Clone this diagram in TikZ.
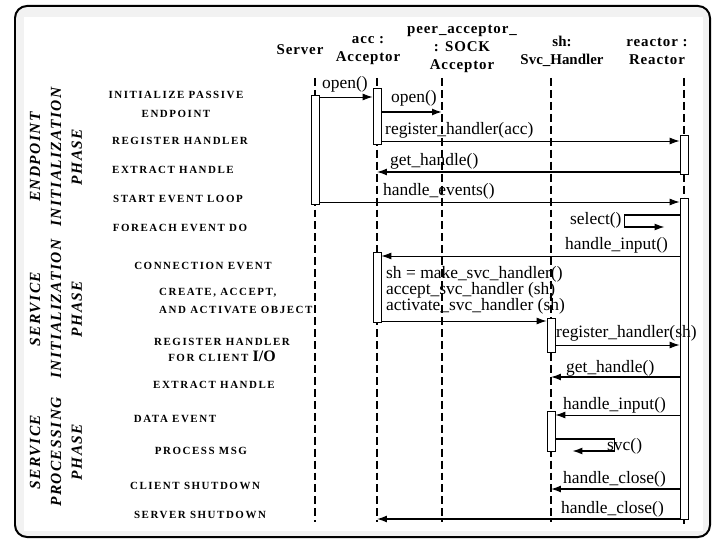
\documentclass[tikz,border=0pt]{standalone}
\usepackage{fontspec}
\setmainfont{Liberation Serif}
\newfontfamily\capsfont[LetterSpace=14]{Liberation Serif Bold}
\newfontfamily\phasefont[LetterSpace=9]{Liberation Serif Bold Italic}
\newfontfamily\headfont[LetterSpace=6]{Liberation Serif Bold}
\newfontfamily\headtight{Liberation Serif Bold}
\usetikzlibrary{arrows.meta,positioning}

\begin{document}
\begin{tikzpicture}[
    x=1bp, y=-1bp,
    lifeline/.style={line width=1.5pt, dash pattern=on 8pt off 4pt},
    bar/.style={rectangle, draw, fill=white, line width=0.9pt, minimum width=8pt, inner sep=0pt},
    msg/.style={-{Latex[length=10pt,width=7pt]}, line width=0.9pt},
    msgtext/.style={anchor=base west, inner sep=0pt, font=\fontsize{17.5}{16}\selectfont},
    head/.style={align=center, inner sep=0pt, font=\headfont\fontsize{15}{18}\selectfont},
    action/.style={align=center, inner sep=0pt, font=\capsfont\fontsize{11}{19}\selectfont},
    phase/.style={align=center, inner sep=0pt, rotate=90, font=\phasefont\fontsize{15.5}{21}\selectfont}
]
    \useasboundingbox (0,0) rectangle (715,539);
    % frame
    \draw[line width=2pt, rounded corners=12pt, fill=gray!10] (15,6) rectangle (710,537);
    \fill[white] (24,17) rectangle (703,531);

    % object heads
    \node[head] (srvhead) at (300,50) {Server};
    \node[head] (acchead) at (368,51) {acc :\\Acceptor};
    \node[head] (peerhead) at (462,49) {peer\_acceptor\_\\: SOCK\\Acceptor};
    \node[head, font=\headtight\fontsize{15}{18}\selectfont] (shhead) at (562,51) {sh:\\Svc\_Handler};
    \node[head] (reactorhead) at (657,51) {reactor :\\Reactor};

    % phases
    \node[phase] (phase1) at (56,157) {ENDPOINT\\INITIALIZATION\\PHASE};
    \node[phase] (phase2) at (56,309) {SERVICE\\INITIALIZATION\\PHASE};
    \node[phase] (phase3) at (56,452) {SERVICE\\PROCESSING\\PHASE};

    % lifelines
    \coordinate (srvtop) at (315,78);     \coordinate (srvend) at (315,522);
    \coordinate (acctop) at (377,78);     \coordinate (accend) at (377,522);
    \coordinate (peertop) at (442,78);    \coordinate (peerend) at (442,522);
    \coordinate (shtop) at (551,78);      \coordinate (shend) at (551,522);
    \coordinate (reactortop) at (684,78); \coordinate (reactorend) at (684,524);
    \draw[lifeline] (srvtop) -- (srvend);
    \draw[lifeline] (acctop) -- (accend);
    \draw[lifeline] (peertop) -- (peerend);
    \draw[lifeline] (shtop) -- (shend);
    \draw[lifeline] (reactortop) -- (reactorend);

    % steps
    \node[action] (initep) at (176,104) {INITIALIZE PASSIVE\\ENDPOINT};
    \node[action] (reghdl) at (180,141) {REGISTER HANDLER};
    \node[action] (extract1) at (173,170) {EXTRACT HANDLE};
    \node[action] (startloop) at (178,199) {START EVENT LOOP};
    \node[action] (foreach) at (180,228) {FOREACH EVENT DO};
    \node[action] (connev) at (203,266) {CONNECTION EVENT};
    \node[action, anchor=west, align=left, fill=white, inner ysep=7pt, font=\capsfont\fontsize{11}{18}\selectfont] (create) at (159,301) {CREATE, ACCEPT,\\AND ACTIVATE OBJECT};
    \node[action, font=\capsfont\fontsize{11}{16}\selectfont] (regclient) at (222,350) {REGISTER HANDLER\\FOR CLIENT {\headtight\fontsize{16}{16}\selectfont I/O}};
    \node[action] (extract2) at (214,385) {EXTRACT HANDLE};
    \node[action] (dataev) at (175,419) {DATA EVENT};
    \node[action] (procmsg) at (201,451) {PROCESS MSG};
    \node[action] (clientdown) at (195,486) {CLIENT SHUTDOWN};
    \node[action] (serverdown) at (200,515) {SERVER SHUTDOWN};

    % activations
    \node[bar, minimum height=110pt] (srvbar) at (315,150) {};
    \node[bar, minimum height=57pt] (accbar1) at (377,116.5) {};
    \node[bar, minimum height=40pt] (reactorbar1) at (684,155) {};
    \node[bar, minimum height=322pt] (reactorbar2) at (684,359) {};
    \node[bar, minimum height=71pt] (accbar2) at (377,287.5) {};
    \node[bar, minimum height=35pt] (shbar1) at (551,335.5) {};
    \node[bar, minimum height=41pt] (shbar2) at (551,431.5) {};

    % messages
    \draw[msg] (srvbar.east |- 0,97) -- (accbar1.west |- 0,97);
    \node[msgtext] (open1) at (322,89) {open()};
    \draw[msg, line width=1.6pt] (accbar1.east |- 0,112) -- (peertop |- 0,112);
    \node[msgtext] (open2) at (391,103) {open()};
    \draw[msg] (accbar1.east |- 0,141) -- (reactorbar1.west |- 0,141);
    \node[msgtext] (regacc) at (385,135) {register\_handler(acc)};
    \draw[msg, line width=1.3pt] (reactorbar1.west |- 0,172) -- (acctop |- 0,172);
    \node[msgtext] (gethdl1) at (390,166) {get\_handle()};
    \draw[msg] (srvbar.east |- 0,202) -- (reactorbar2.west |- 0,202);
    \node[msgtext] (hdlevents) at (383,196) {handle\_events()};
    \draw[msg, line width=1.3pt] (reactorbar2.west |- 0,215) -- ++(-55,0) -- ++(0,12) -- ++(40,0);
    \node[msgtext] (select) at (570,225) {select()};
    \draw[msg] (reactorbar2.west |- 0,256) -- (accbar2.east |- 0,256);
    \node[msgtext] (hdlinput1) at (565,250) {handle\_input()};
    \node[msgtext, anchor=north west, align=left] (accsteps) at (386,266)
        {sh = make\_svc\_handler()\\accept\_svc\_handler (sh)\\activate\_svc\_handler (sh)};
    \draw[msg] (accbar2.east |- 0,321) -- (shbar1.west |- 0,321);
    \draw[msg] (shbar1.east |- 0,345) -- (reactorbar2.west |- 0,345);
    \node[msgtext] (regsh) at (556,337) {register\_handler(sh)};
    \draw[msg, line width=1.3pt] (reactorbar2.west |- 0,377) -- (shtop |- 0,377);
    \node[msgtext] (gethdl2) at (566,372) {get\_handle()};
    \draw[msg] (reactorbar2.west |- 0,415) -- (shbar2.east |- 0,415);
    \node[msgtext] (hdlinput2) at (563,409) {handle\_input()};
    \draw[msg, line width=1.3pt] (shbar2.east |- 0,439) -- ++(59,0) -- ++(0,12) -- ++(-42,0);
    \node[msgtext] (svc) at (607,450) {svc()};
    \draw[msg, line width=1.3pt] (reactorbar2.west |- 0,489) -- (shtop |- 0,489);
    \node[msgtext] (hdlclose1) at (563,483) {handle\_close()};
    \draw[msg, line width=1.3pt] (reactorbar2.west |- 0,519) -- (acctop |- 0,519);
    \node[msgtext] (hdlclose2) at (561,513) {handle\_close()};
\end{tikzpicture}
\end{document}
